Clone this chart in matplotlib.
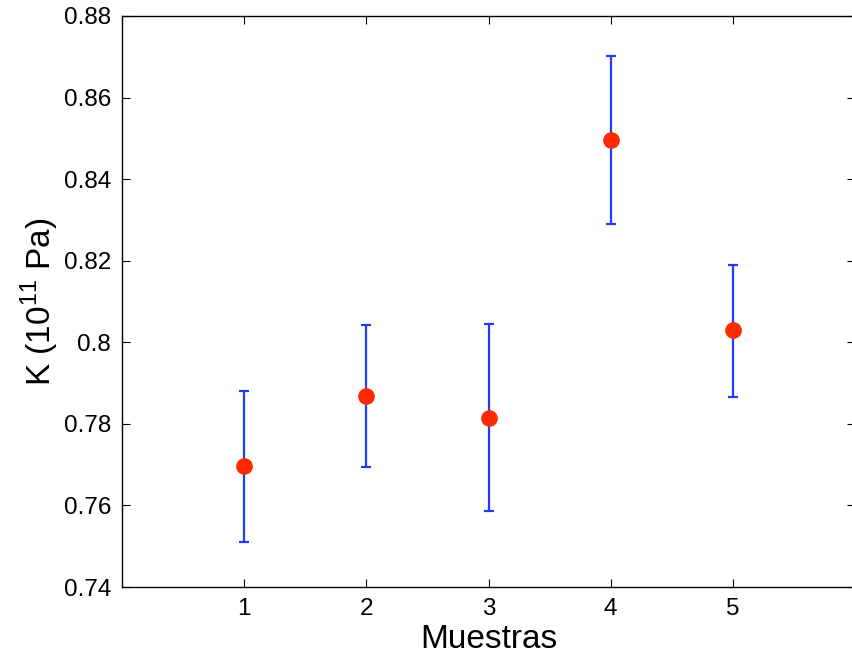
import matplotlib
matplotlib.use('Agg')
import matplotlib.pyplot as plt
import numpy as np

plt.rcParams['font.family'] = ['Liberation Sans', 'DejaVu Sans']
plt.rcParams['mathtext.fontset'] = 'custom'
plt.rcParams['mathtext.rm'] = 'Liberation Sans'

# data
muestras = [1, 2, 3, 4, 5]
k_mean = [0.7697, 0.7869, 0.7814, 0.8497, 0.8030]
k_upper = [0.7881, 0.8043, 0.8044, 0.8702, 0.8190]
k_lower = [0.7511, 0.7695, 0.7586, 0.8291, 0.7867]

mean = np.array(k_mean)
yerr = [mean - np.array(k_lower), np.array(k_upper) - mean]

fig = plt.figure(figsize=(8.52, 6.62), dpi=100)
ax = fig.add_axes([122 / 852, 1 - 587 / 662, 733 / 852, 571 / 662])

ax.errorbar(muestras, k_mean, yerr=yerr, fmt='none', ecolor='#1f3dff',
            elinewidth=1.6, capsize=3.8, capthick=1.6, zorder=2)
ax.plot(muestras, k_mean, 'o', color='#ff2a00', markersize=11, zorder=3)

ax.set_xlim(0, 6)
ax.set_ylim(0.74, 0.88)
ax.set_xticks(muestras)
yt = [0.74, 0.76, 0.78, 0.80, 0.82, 0.84, 0.86, 0.88]
ax.set_yticks(yt)
ax.set_yticklabels(['0.74', '0.76', '0.78', '0.8', '0.82', '0.84', '0.86', '0.88'])
ax.tick_params(direction='in', length=6, width=0.8, top=True, right=True,
               labelsize=17.5, pad=8)
for s in ax.spines.values():
    s.set_linewidth(1.0)

ax.set_xlabel('Muestras', fontsize=24, labelpad=3)
ax.set_ylabel(r'K (10$^{11}$ Pa)', fontsize=24, labelpad=2)

fig.savefig('out.png', dpi=100)
